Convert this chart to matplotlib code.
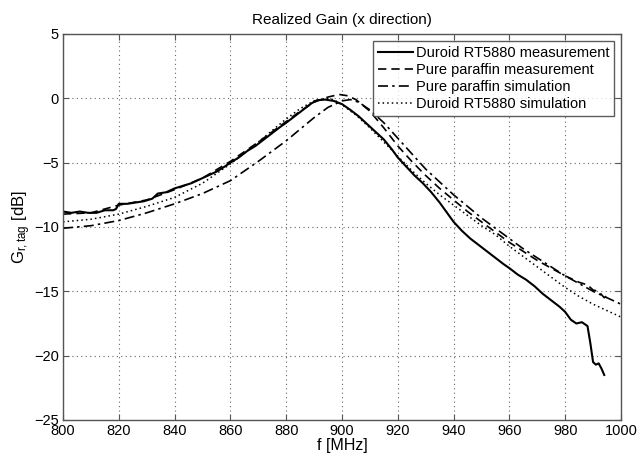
import matplotlib
matplotlib.use("Agg")
import matplotlib.pyplot as plt

plt.rcParams['font.family'] = ['Liberation Sans', 'DejaVu Sans']
plt.rcParams['mathtext.fontset'] = 'custom'
plt.rcParams['mathtext.rm'] = 'Liberation Sans'
plt.rcParams['mathtext.it'] = 'Liberation Sans'

# Duroid RT5880 measurement
f_dm = [800, 803, 806, 809, 812, 815, 818, 819, 820, 823, 826, 829, 832, 834, 837, 840,
        843, 846, 849, 852, 855, 858, 860, 863, 866, 869, 872, 875, 878, 880, 883, 886,
        889, 891, 894, 897, 900, 903, 906, 909, 912, 915, 918, 920, 923, 926, 929, 932,
        935, 938, 940, 943, 946, 949, 952, 955, 958, 960, 963, 966, 969, 972, 975, 978,
        980, 982, 984, 986, 988, 989, 990, 991, 992, 993, 994]
g_dm = [-8.8, -8.9, -8.8, -8.9, -8.9, -8.7, -8.7, -8.6, -8.2, -8.2, -8.1, -8.0, -7.8, -7.4, -7.3, -7.0,
        -6.8, -6.6, -6.3, -6.0, -5.7, -5.3, -5.0, -4.6, -4.1, -3.7, -3.2, -2.7, -2.2, -1.9, -1.4, -0.9,
        -0.4, -0.15, -0.1, -0.2, -0.45, -0.9, -1.4, -2.0, -2.6, -3.2, -4.0, -4.6, -5.3, -6.0, -6.6, -7.3,
        -8.1, -9.0, -9.6, -10.3, -10.9, -11.4, -11.9, -12.4, -12.9, -13.2, -13.7, -14.1, -14.6, -15.2, -15.7, -16.2,
        -16.6, -17.2, -17.5, -17.4, -17.7, -19.0, -20.5, -20.7, -20.6, -21.0, -21.5]

# Pure paraffin measurement
f_pm = [800, 810, 820, 830, 840, 850, 860, 870, 880, 885, 890, 895, 899, 902, 905, 910,
        915, 920, 925, 930, 935, 940, 945, 950, 955, 960, 965, 970, 975, 980, 985, 988,
        990, 992, 994, 995]
g_pm = [-9.0, -8.9, -8.3, -7.9, -7.1, -6.2, -4.9, -3.4, -1.8, -1.0, -0.3, 0.1, 0.3, 0.2, -0.1, -1.0,
        -2.3, -3.7, -4.9, -6.0, -7.0, -7.9, -8.8, -9.6, -10.4, -11.2, -11.9, -12.6, -13.2, -13.8, -14.3, -14.5,
        -14.9, -15.0, -15.5, -15.3]

# Pure paraffin simulation
f_ps = [800, 810, 820, 830, 840, 850, 860, 870, 880, 885, 890, 895, 900, 903, 906, 910,
        915, 920, 925, 930, 935, 940, 945, 950, 955, 960, 965, 970, 975, 980, 985, 990,
        995, 1000]
g_ps = [-10.1, -9.9, -9.5, -8.9, -8.2, -7.4, -6.4, -4.9, -3.3, -2.4, -1.5, -0.7, -0.2, -0.1, -0.3, -0.9,
        -1.9, -3.1, -4.3, -5.5, -6.5, -7.5, -8.4, -9.3, -10.1, -10.9, -11.7, -12.4, -13.1, -13.8, -14.4, -15.0,
        -15.5, -16.0]

# Duroid RT5880 simulation
f_ds = [800, 810, 820, 830, 840, 850, 860, 870, 880, 885, 890, 894, 897, 900, 905, 910,
        915, 920, 925, 930, 935, 940, 945, 950, 955, 960, 965, 970, 975, 980, 985, 990,
        995, 1000]
g_ds = [-9.6, -9.4, -9.0, -8.4, -7.7, -6.6, -5.1, -3.4, -1.6, -0.8, -0.2, 0.0, -0.1, -0.5, -1.3, -2.3,
        -3.4, -4.5, -5.6, -6.6, -7.5, -8.3, -9.1, -9.9, -10.6, -11.5, -12.3, -13.1, -13.9, -14.7, -15.4, -16.0,
        -16.5, -17.0]

x_ticks = [800, 820, 840, 860, 880, 900, 920, 940, 960, 980, 1000]
y_ticks = [-25, -20, -15, -10, -5, 0, 5]

fig = plt.figure(figsize=(6.39, 4.63), dpi=100)
ax = fig.add_axes([0.0986, 0.0929, 0.8732, 0.8337])

ax.plot(f_dm, g_dm, color='black', lw=1.5, ls='-', label='Duroid RT5880 measurement')
ax.plot(f_pm, g_pm, color='black', lw=1.2, ls=(0, (5, 3)), label='Pure paraffin measurement')
ax.plot(f_ps, g_ps, color='black', lw=1.2, ls=(0, (6, 2.5, 1.5, 2.5)), label='Pure paraffin simulation')
ax.plot(f_ds, g_ds, color='black', lw=1.1, ls=(0, (1, 2)), label='Duroid RT5880 simulation')

ax.set_xlim(800, 1000)
ax.set_ylim(-25, 5)
ax.set_xticks(x_ticks)
ax.set_yticks(y_ticks)
ax.tick_params(direction='in', top=True, right=True, labelsize=10.5, length=4,
               color='#555555', pad=3)
ax.grid(True, color='#666666', ls=(0, (1, 3)), lw=0.8)
for s in ax.spines.values():
    s.set_color('#555555')
    s.set_linewidth(1.0)

ax.set_title('Realized Gain (x direction)', fontsize=11, pad=7)
ax.set_xlabel('f [MHz]', fontsize=11.5, labelpad=0)
ax.set_ylabel(r'G$_{\mathregular{r,tag}}$ [dB]', fontsize=12, labelpad=1)

leg = ax.legend(loc='upper right', fontsize=10.5, frameon=True, fancybox=False,
                edgecolor='#333333', handlelength=2.4, handletextpad=0.2,
                borderaxespad=0.45, labelspacing=0.22, borderpad=0.35)
leg.get_frame().set_linewidth(1.0)

fig.savefig('out.png', dpi=100)
